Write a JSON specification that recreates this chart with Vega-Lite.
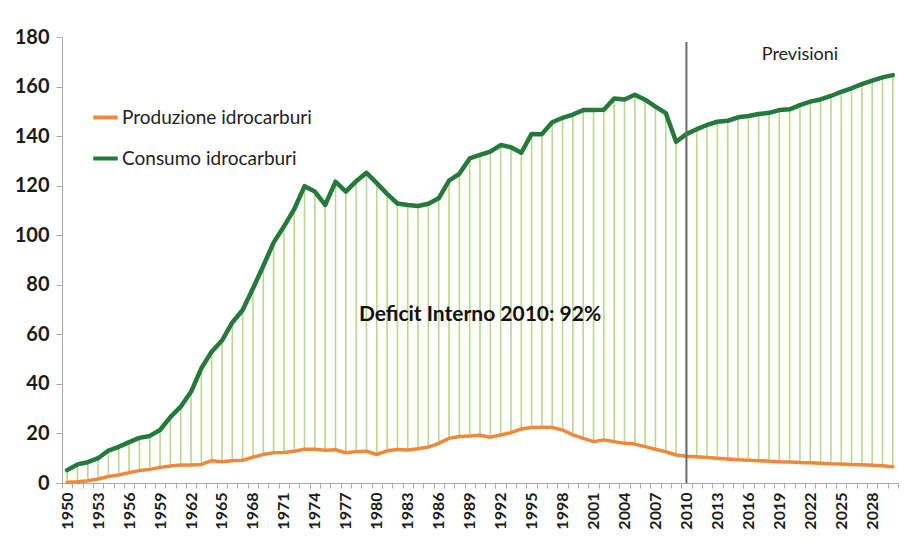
{
  "$schema": "https://vega.github.io/schema/vega-lite/v6.json",
  "width": 836,
  "height": 446,
  "autosize": {"type": "none"},
  "padding": {"left": 62, "top": 37, "right": 9, "bottom": 68},
  "background": "white",
  "config": {
    "view": {"stroke": null},
    "font": "Lato",
    "axis": {"labelColor": "#1a1a1a", "labelFont": "Lato", "labelFontWeight": "bold", "domainColor": "#a8a8a8", "tickColor": "#a8a8a8", "grid": false, "title": null}
  },
  "datasets": {
    "idrocarburi": [
      {"anno": 1950, "produzione": 0.3, "consumo": 5.2},
      {"anno": 1951, "produzione": 0.5, "consumo": 7.5},
      {"anno": 1952, "produzione": 0.9, "consumo": 8.4},
      {"anno": 1953, "produzione": 1.6, "consumo": 10.0},
      {"anno": 1954, "produzione": 2.6, "consumo": 13.1},
      {"anno": 1955, "produzione": 3.2, "consumo": 14.6},
      {"anno": 1956, "produzione": 4.2, "consumo": 16.5},
      {"anno": 1957, "produzione": 5.0, "consumo": 18.2},
      {"anno": 1958, "produzione": 5.5, "consumo": 19.0},
      {"anno": 1959, "produzione": 6.3, "consumo": 21.4},
      {"anno": 1960, "produzione": 6.9, "consumo": 26.6},
      {"anno": 1961, "produzione": 7.3, "consumo": 30.8},
      {"anno": 1962, "produzione": 7.3, "consumo": 36.8},
      {"anno": 1963, "produzione": 7.5, "consumo": 46.3},
      {"anno": 1964, "produzione": 9.0, "consumo": 53.0},
      {"anno": 1965, "produzione": 8.6, "consumo": 57.5},
      {"anno": 1966, "produzione": 9.0, "consumo": 64.8},
      {"anno": 1967, "produzione": 9.2, "consumo": 69.8},
      {"anno": 1968, "produzione": 10.4, "consumo": 78.5},
      {"anno": 1969, "produzione": 11.5, "consumo": 87.6},
      {"anno": 1970, "produzione": 12.2, "consumo": 97.0},
      {"anno": 1971, "produzione": 12.3, "consumo": 103.5},
      {"anno": 1972, "produzione": 12.8, "consumo": 110.5},
      {"anno": 1973, "produzione": 13.6, "consumo": 119.8},
      {"anno": 1974, "produzione": 13.6, "consumo": 117.6},
      {"anno": 1975, "produzione": 13.2, "consumo": 112.2},
      {"anno": 1976, "produzione": 13.4, "consumo": 121.6},
      {"anno": 1977, "produzione": 12.2, "consumo": 117.6},
      {"anno": 1978, "produzione": 12.6, "consumo": 121.8},
      {"anno": 1979, "produzione": 12.8, "consumo": 125.2},
      {"anno": 1980, "produzione": 11.5, "consumo": 121.0},
      {"anno": 1981, "produzione": 13.0, "consumo": 116.7},
      {"anno": 1982, "produzione": 13.5, "consumo": 112.8},
      {"anno": 1983, "produzione": 13.3, "consumo": 112.2},
      {"anno": 1984, "produzione": 13.8, "consumo": 111.8},
      {"anno": 1985, "produzione": 14.5, "consumo": 112.7},
      {"anno": 1986, "produzione": 16.0, "consumo": 114.9},
      {"anno": 1987, "produzione": 18.0, "consumo": 122.0},
      {"anno": 1988, "produzione": 18.8, "consumo": 124.8},
      {"anno": 1989, "produzione": 19.0, "consumo": 131.0},
      {"anno": 1990, "produzione": 19.3, "consumo": 132.4},
      {"anno": 1991, "produzione": 18.5, "consumo": 133.7},
      {"anno": 1992, "produzione": 19.4, "consumo": 136.4},
      {"anno": 1993, "produzione": 20.3, "consumo": 135.5},
      {"anno": 1994, "produzione": 21.8, "consumo": 133.3},
      {"anno": 1995, "produzione": 22.4, "consumo": 140.9},
      {"anno": 1996, "produzione": 22.5, "consumo": 140.8},
      {"anno": 1997, "produzione": 22.4, "consumo": 145.6},
      {"anno": 1998, "produzione": 21.4, "consumo": 147.4},
      {"anno": 1999, "produzione": 19.4, "consumo": 148.7},
      {"anno": 2000, "produzione": 18.0, "consumo": 150.5},
      {"anno": 2001, "produzione": 16.7, "consumo": 150.5},
      {"anno": 2002, "produzione": 17.4, "consumo": 150.6},
      {"anno": 2003, "produzione": 16.7, "consumo": 155.2},
      {"anno": 2004, "produzione": 16.0, "consumo": 154.8},
      {"anno": 2005, "produzione": 15.7, "consumo": 156.7},
      {"anno": 2006, "produzione": 14.7, "consumo": 154.7},
      {"anno": 2007, "produzione": 13.6, "consumo": 151.9},
      {"anno": 2008, "produzione": 12.6, "consumo": 149.3},
      {"anno": 2009, "produzione": 11.3, "consumo": 137.7},
      {"anno": 2010, "produzione": 10.8, "consumo": 140.8},
      {"anno": 2011, "produzione": 10.6, "consumo": 142.8},
      {"anno": 2012, "produzione": 10.3, "consumo": 144.5},
      {"anno": 2013, "produzione": 10.0, "consumo": 145.8},
      {"anno": 2014, "produzione": 9.7, "consumo": 146.2},
      {"anno": 2015, "produzione": 9.4, "consumo": 147.6},
      {"anno": 2016, "produzione": 9.2, "consumo": 148.1},
      {"anno": 2017, "produzione": 9.0, "consumo": 148.9},
      {"anno": 2018, "produzione": 8.8, "consumo": 149.4},
      {"anno": 2019, "produzione": 8.6, "consumo": 150.5},
      {"anno": 2020, "produzione": 8.5, "consumo": 150.8},
      {"anno": 2021, "produzione": 8.3, "consumo": 152.5},
      {"anno": 2022, "produzione": 8.2, "consumo": 153.9},
      {"anno": 2023, "produzione": 8.0, "consumo": 154.8},
      {"anno": 2024, "produzione": 7.8, "consumo": 156.2},
      {"anno": 2025, "produzione": 7.7, "consumo": 157.9},
      {"anno": 2026, "produzione": 7.5, "consumo": 159.3},
      {"anno": 2027, "produzione": 7.4, "consumo": 161.0},
      {"anno": 2028, "produzione": 7.2, "consumo": 162.4},
      {"anno": 2029, "produzione": 7.0, "consumo": 163.7},
      {"anno": 2030, "produzione": 6.6, "consumo": 164.6}
    ]
  },
  "data": {"name": "idrocarburi"},
  "encoding": {
    "x": {
      "field": "anno",
      "type": "ordinal",
      "scale": {"paddingInner": 0, "paddingOuter": 0},
      "axis": {
        "labelAngle": -90,
        "labelExpr": "(datum.value - 1950) % 3 == 0 ? datum.value : ''",
        "labelOverlap": false,
        "labelFontSize": 16,
        "labelPadding": 4,
        "tickBand": "extent",
        "tickSize": 5
      }
    }
  },
  "layer": [
    {
      "mark": {"type": "rule", "color": "#b9d88d", "strokeWidth": 1.6},
      "encoding": {
        "y": {"field": "produzione", "type": "quantitative", "scale": {"domain": [0, 180], "nice": false},
              "axis": {"values": [0, 20, 40, 60, 80, 100, 120, 140, 160, 180], "labelFontSize": 20, "tickSize": 6, "labelPadding": 7}},
        "y2": {"field": "consumo"}
      }
    },
    {
      "mark": {"type": "line", "strokeWidth": 3.5, "strokeJoin": "round", "strokeCap": "round"},
      "encoding": {
        "y": {"field": "produzione", "type": "quantitative"},
        "color": {
          "datum": "Produzione idrocarburi",
          "type": "nominal",
          "scale": {"domain": ["Produzione idrocarburi", "Consumo idrocarburi"], "range": ["#f0883a", "#237a3b"]},
          "legend": {
            "orient": "none",
            "legendX": 29,
            "legendY": 66,
            "title": null,
            "symbolType": "stroke",
            "symbolSize": 600,
            "symbolStrokeWidth": 4,
            "labelFont": "Lato",
            "labelFontSize": 19,
            "labelLimit": 0,
            "labelColor": "#222222",
            "labelOffset": 2,
            "rowPadding": 16
          }
        }
      }
    },
    {
      "mark": {"type": "line", "strokeWidth": 4.5, "strokeJoin": "round", "strokeCap": "round"},
      "encoding": {
        "y": {"field": "consumo", "type": "quantitative"},
        "color": {"datum": "Consumo idrocarburi", "type": "nominal"}
      }
    },
    {
      "data": {"values": [{"anno": 2010}]},
      "mark": {"type": "rule", "color": "#6a6a6a", "strokeWidth": 2},
      "encoding": {
        "y": {"datum": 0, "type": "quantitative"},
        "y2": {"datum": 178}
      }
    },
    {
      "data": {"values": [{"anno": 1990, "testo": "Deficit Interno 2010: 92%"}]},
      "mark": {"type": "text", "font": "Lato", "fontWeight": "bold", "fontSize": 21, "color": "#111111", "align": "center", "baseline": "middle"},
      "encoding": {
        "y": {"datum": 68, "type": "quantitative"},
        "text": {"field": "testo"}
      }
    },
    {
      "data": {"values": [{"anno": 2021, "testo": "Previsioni"}]},
      "mark": {"type": "text", "font": "Lato", "fontSize": 18, "color": "#222222", "align": "center", "baseline": "middle"},
      "encoding": {
        "y": {"datum": 172.7, "type": "quantitative"},
        "text": {"field": "testo"}
      }
    }
  ]
}
